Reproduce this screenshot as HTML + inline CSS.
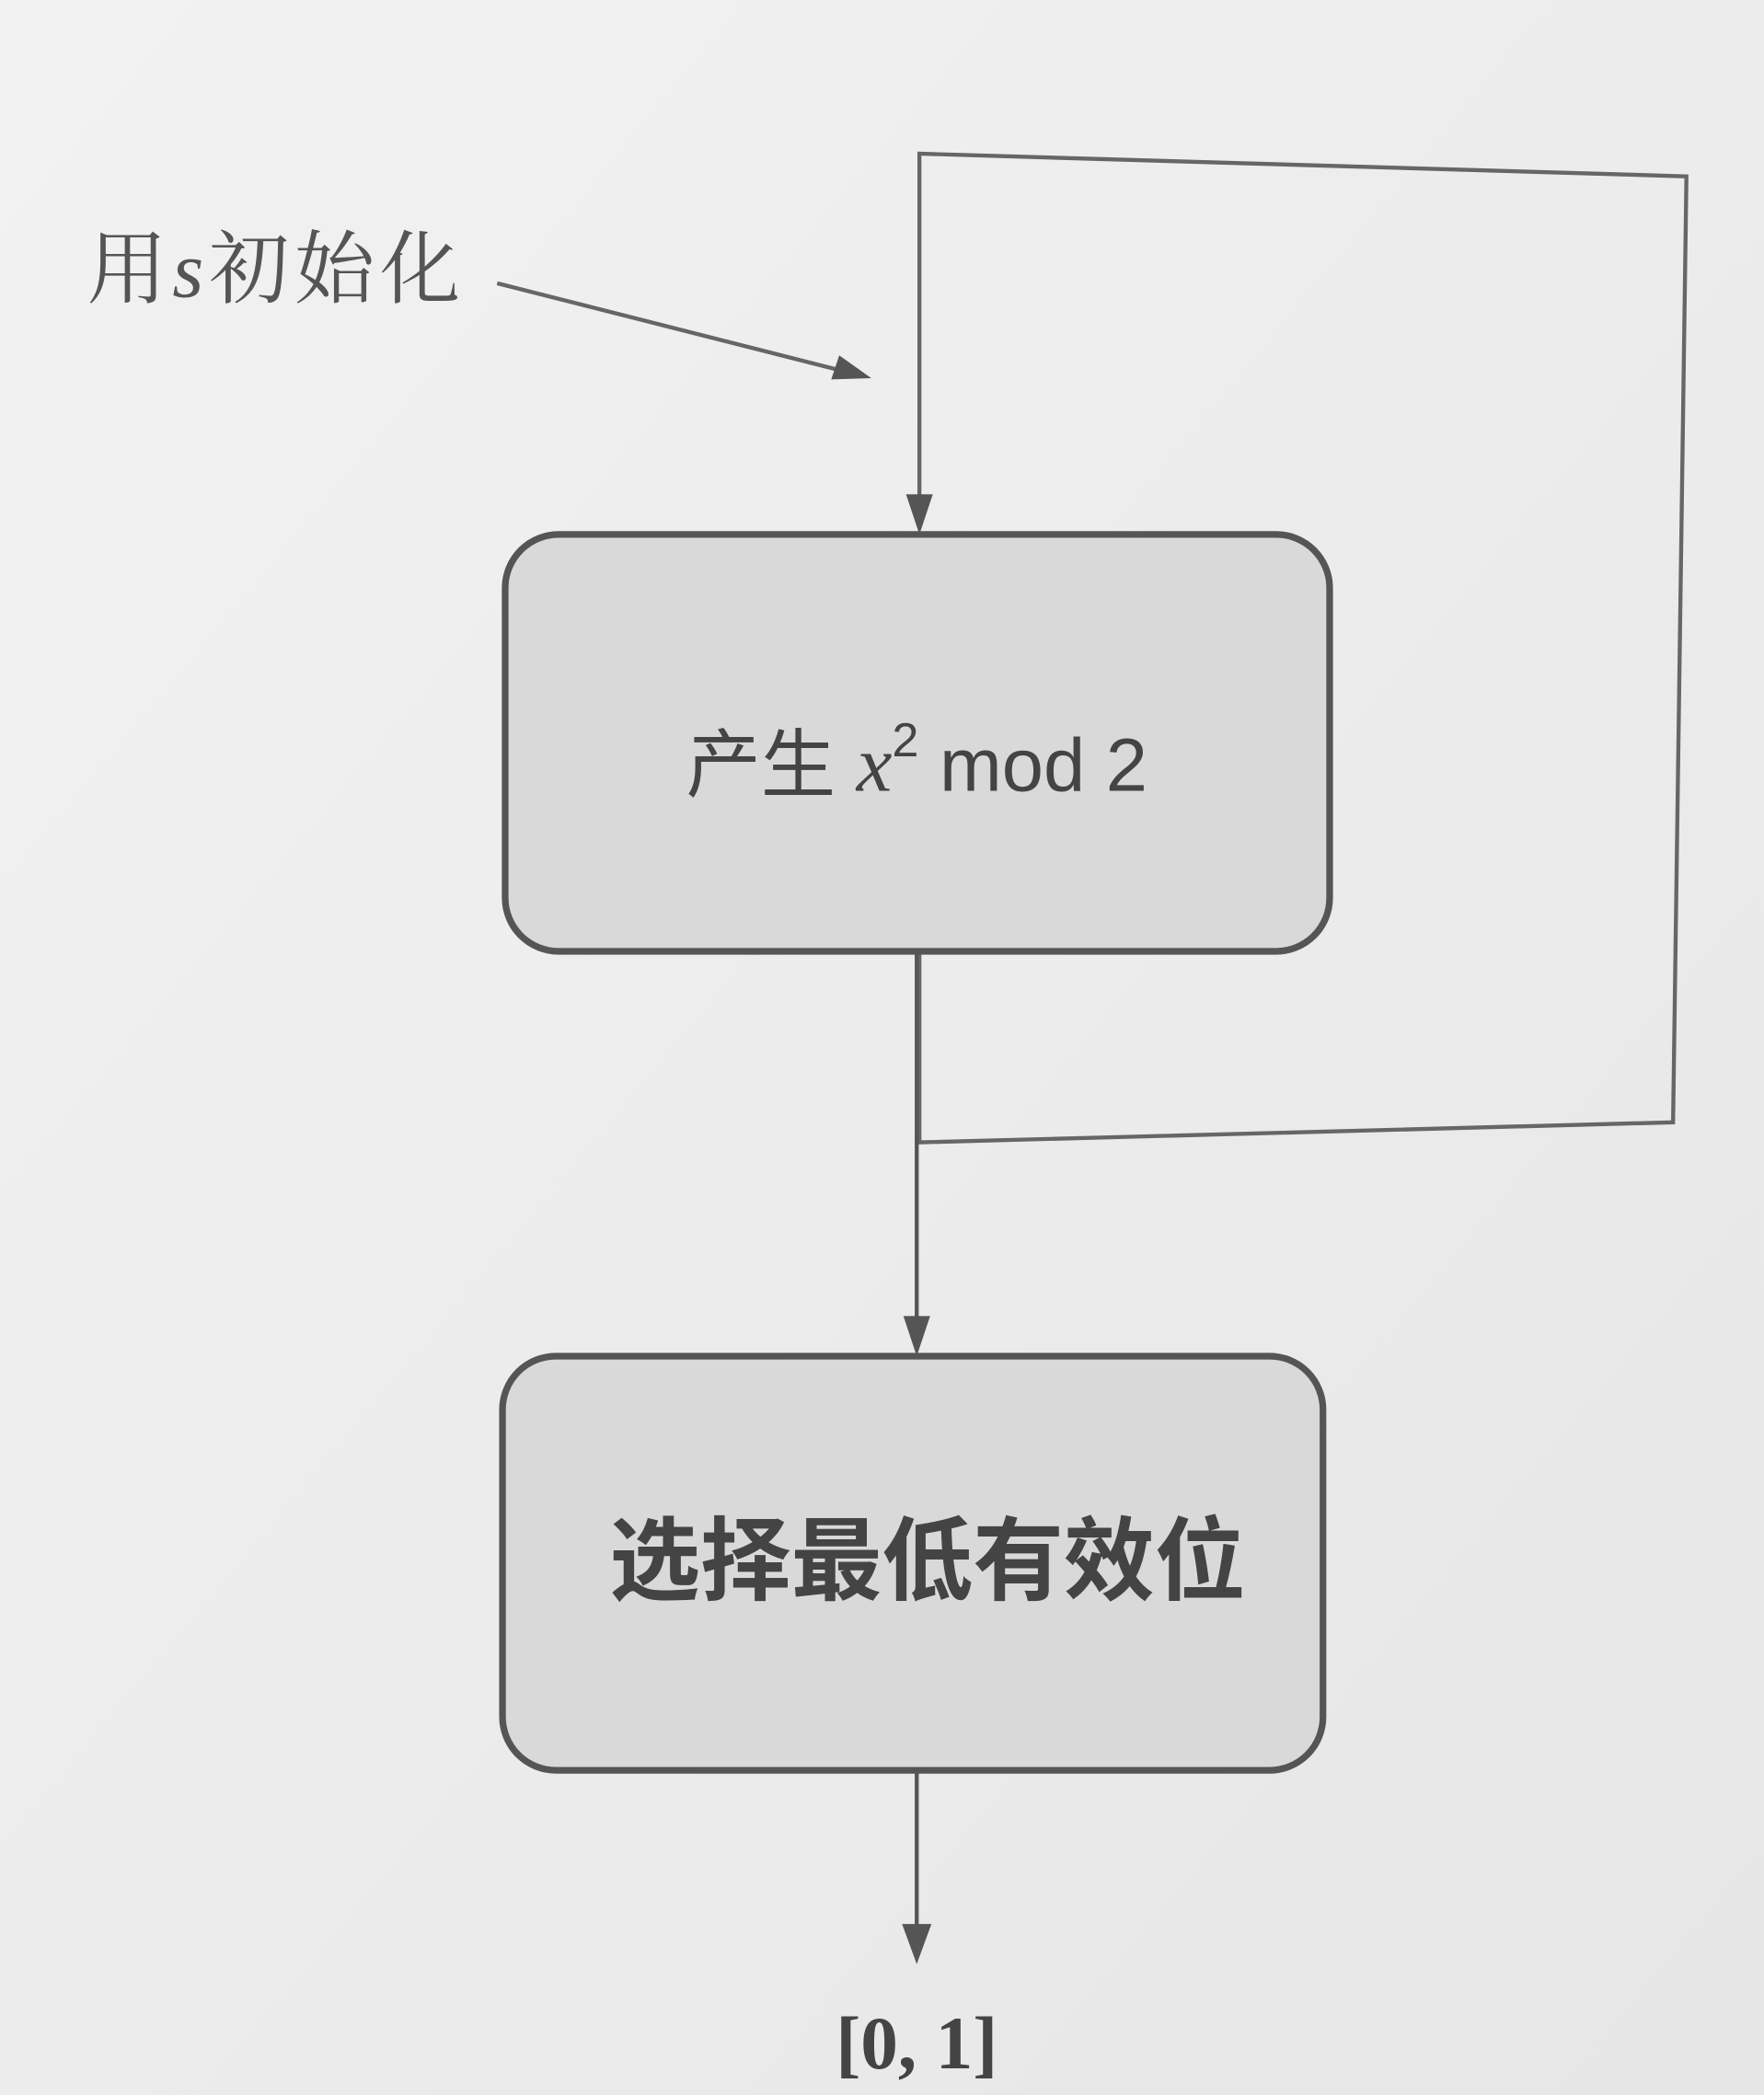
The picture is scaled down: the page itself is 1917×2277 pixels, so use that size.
<!DOCTYPE html>
<html>
<head>
<meta charset="utf-8">
<style>
html,body{margin:0;padding:0;background:#ededed;}
svg{display:block;}
</style>
</head>
<body>
<svg width="1917" height="2277" viewBox="0 0 1320 1568" xmlns="http://www.w3.org/2000/svg">
<defs>
<linearGradient id="bg" x1="0" y1="0" x2="1" y2="1">
<stop offset="0" stop-color="#f2f2f2"/>
<stop offset="1" stop-color="#e6e6e6"/>
</linearGradient>
</defs>
<rect width="1320" height="1568" fill="url(#bg)"/>
<polyline points="688,712 688,855 1252,840 1262,132 688,115 688,392" fill="none" stroke="#666" stroke-width="3"/>
<path d="M678,370 L688,400 L698,370 z" fill="#555"/>
<line x1="372" y1="212" x2="640" y2="280" stroke="#666" stroke-width="3"/>
<path d="M652,283 L622,284 L628,266 z" fill="#555"/>
<rect x="378" y="400" width="617" height="312" rx="40" fill="#d9d9d9" stroke="#555" stroke-width="5"/>
<text x="686" y="592" text-anchor="middle" font-family="'Liberation Sans','Noto Sans CJK SC',sans-serif" font-size="56" fill="#444">产生 <tspan font-family="'Liberation Serif',serif" font-style="italic" font-size="60">x</tspan><tspan font-size="36" dy="-26">2</tspan><tspan dy="26"> mod 2</tspan></text>
<line x1="686" y1="712" x2="686" y2="990" stroke="#555" stroke-width="3"/>
<path d="M676,985 L686,1015 L696,985 z" fill="#555"/>
<rect x="376" y="1015" width="614" height="310" rx="40" fill="#d9d9d9" stroke="#555" stroke-width="5"/>
<text x="694" y="1192" text-anchor="middle" font-family="'Liberation Sans','Noto Sans CJK SC',sans-serif" font-weight="600" font-size="68" fill="#444">选择最低有效位</text>
<line x1="686" y1="1325" x2="686" y2="1445" stroke="#555" stroke-width="3"/>
<path d="M675,1440 L686,1470 L697,1440 z" fill="#555"/>
<text x="686" y="1548" text-anchor="middle" font-family="'Liberation Serif',serif" font-weight="bold" font-size="56" fill="#444">[0, 1]</text>
<text x="65" y="222" font-family="'Liberation Serif','Noto Serif CJK SC',serif" font-size="60" letter-spacing="4" fill="#555">用<tspan font-style="italic">s</tspan>初始化</text>
</svg>
</body>
</html>
